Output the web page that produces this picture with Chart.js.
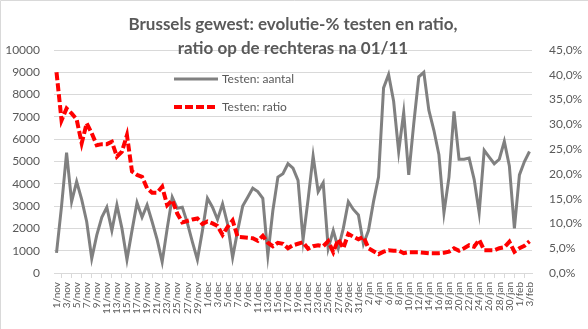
<!DOCTYPE html>
<html>
<head>
<meta charset="utf-8">
<title>Brussels gewest testen</title>
<script src="https://cdn.jsdelivr.net/npm/chart.js@4.4.0/dist/chart.umd.min.js"></script>
<style>
  html, body { margin: 0; padding: 0; background: #fff; }
</style>
</head>
<body>
<canvas id="testChart" width="588" height="329"></canvas>
<script>
// dagen 1/nov t.e.m. 3/feb
const dagen = [
  '1/nov','2/nov','3/nov','4/nov','5/nov','6/nov','7/nov','8/nov','9/nov','10/nov',
  '11/nov','12/nov','13/nov','14/nov','15/nov','16/nov','17/nov','18/nov','19/nov','20/nov',
  '21/nov','22/nov','23/nov','24/nov','25/nov','26/nov','27/nov','28/nov','29/nov','30/nov',
  '1/dec','2/dec','3/dec','4/dec','5/dec','6/dec','7/dec','8/dec','9/dec','10/dec',
  '11/dec','12/dec','13/dec','14/dec','15/dec','16/dec','17/dec','18/dec','19/dec','20/dec',
  '21/dec','22/dec','23/dec','24/dec','25/dec','26/dec','27/dec','28/dec','29/dec','30/dec','31/dec',
  '1/jan','2/jan','3/jan','4/jan','5/jan','6/jan','7/jan','8/jan','9/jan','10/jan',
  '11/jan','12/jan','13/jan','14/jan','15/jan','16/jan','17/jan','18/jan','19/jan','20/jan',
  '21/jan','22/jan','23/jan','24/jan','25/jan','26/jan','27/jan','28/jan','29/jan','30/jan','31/jan',
  '1/feb','2/feb','3/feb'
];

// aantal testen per dag
const aantal = [
  900, 3000, 5400, 3200, 4100, 3300, 2300, 650, 1700, 2500,
  2950, 1900, 3050, 2000, 600, 1900, 3150, 2500, 3050, 2300,
  1500, 500, 2000, 3400, 2900, 2950, 2250, 1400, 600, 1900,
  3350, 2950, 2400, 3100, 2200, 700, 1900, 3000, 3400, 3800,
  3650, 3350, 800, 2800, 4300, 4450, 4900, 4700, 4150, 1500,
  3300, 5250, 3650, 4050, 1100, 1900, 1100, 2000, 3200, 2850,
  2600, 1300, 1900, 3200, 4300, 8300, 8900, 7700, 5450, 7200,
  4400, 6700, 8800, 9000, 7300, 6400, 5300, 2700, 4300, 7250,
  5100, 5100, 5150, 4200, 2700, 5500, 5200, 4900, 5100, 5900,
  4800, 2000, 4400, 5000, 5450
];

// positiviteitsratio in %
const ratio = [
  40.5, 30.8, 33.2, 32.2, 31.0, 26.2, 30.2, 28.2, 25.8, 26.0,
  26.0, 26.5, 23.5, 24.5, 27.8, 20.5, 19.8, 19.4, 17.1, 16.2,
  16.2, 17.4, 13.7, 14.7, 12.0, 10.2, 10.5, 10.8, 11.0, 9.9,
  10.4, 10.0, 9.5, 7.7, 9.3, 10.6, 7.3, 7.2, 7.1, 7.0,
  6.5, 7.5, 6.1, 5.4, 6.1, 5.9, 5.0, 5.6, 5.9, 6.2,
  4.9, 5.4, 5.6, 5.4, 6.4, 4.2, 6.8, 5.0, 7.9, 7.3,
  6.8, 7.3, 5.0, 4.4, 3.8, 4.3, 4.6, 4.5, 4.5, 4.0,
  4.2, 4.2, 4.2, 4.1, 4.0, 4.0, 4.0, 4.1, 4.3, 5.0,
  4.5, 5.0, 5.6, 5.3, 6.7, 4.6, 4.6, 4.6, 5.0, 5.2,
  6.3, 4.3, 5.0, 5.5, 6.4
];

const titelRegels = ['Brussels gewest: evolutie-% testen en ratio,', 'ratio op de rechteras na 01/11'];

const tekstKleur = '#595959';
const rasterKleur = '#d9d9d9';
const lettertype = 'Lato, "Liberation Sans", sans-serif';

// titel, legende en kader zelf tekenen (titel ligt over het raster)
const extraTekening = {
  id: 'extraTekening',
  afterDraw(chart) {
    const ctx = chart.ctx;
    ctx.save();
    // kader
    ctx.strokeStyle = rasterKleur;
    ctx.lineWidth = 1;
    ctx.beginPath();
    ctx.moveTo(0.5, 329);
    ctx.lineTo(0.5, 0.5);
    ctx.lineTo(588, 0.5);
    ctx.stroke();

    // titel
    ctx.fillStyle = tekstKleur;
    ctx.font = 'bold 17px ' + lettertype;
    ctx.textAlign = 'center';
    ctx.textBaseline = 'middle';
    ctx.fillText(titelRegels[0], 293, 25);
    ctx.fillText(titelRegels[1], 293, 49);

    // legende
    const items = [chart.data.datasets[1], chart.data.datasets[0]];
    items.forEach((ds, k) => {
      const y = 79 + k * 28;
      ctx.strokeStyle = ds.borderColor;
      ctx.lineWidth = ds.borderWidth;
      ctx.setLineDash(ds.borderDash || []);
      ctx.beginPath();
      ctx.moveTo(174, y);
      ctx.lineTo(218, y);
      ctx.stroke();
      ctx.setLineDash([]);
      ctx.fillStyle = tekstKleur;
      ctx.font = '12px ' + lettertype;
      ctx.textAlign = 'left';
      ctx.fillText(ds.label, 222, y);
    });
    ctx.restore();
  }
};

const ctx = document.getElementById('testChart');
new Chart(ctx, {
  type: 'line',
  data: {
    labels: dagen,
    datasets: [
      {
        label: 'Testen: ratio',
        data: ratio,
        yAxisID: 'y2',
        borderColor: '#ff0000',
        borderWidth: 4,
        borderDash: [8, 3],
        pointRadius: 0,
        tension: 0,
        order: 0
      },
      {
        label: 'Testen: aantal',
        data: aantal,
        yAxisID: 'y',
        borderColor: '#808080',
        borderWidth: 3,
        pointRadius: 0,
        tension: 0,
        order: 1
      }
    ]
  },
  options: {
    responsive: false,
    animation: false,
    layout: { padding: { top: 50 } },
    plugins: {
      legend: { display: false },
      title: { display: false },
      tooltip: { enabled: false }
    },
    scales: {
      x: {
        offset: true,
        grid: {
          offset: true,
          drawOnChartArea: false,
          tickLength: 5,
          color: rasterKleur
        },
        border: { color: rasterKleur },
        ticks: {
          autoSkip: false,
          minRotation: 90,
          maxRotation: 90,
          padding: 4,
          color: tekstKleur,
          font: { family: lettertype, size: 10 },
          callback: function (v, i) { return i % 2 === 0 ? this.getLabelForValue(v) : null; }
        },
        afterFit(scale) { scale.height = 56; }
      },
      y: {
        position: 'left',
        min: 0,
        max: 10000,
        grid: { color: rasterKleur, drawTicks: false },
        border: { display: false },
        ticks: {
          stepSize: 1000,
          padding: 14,
          color: tekstKleur,
          font: { family: lettertype, size: 12 },
          callback: (v) => String(v)
        },
        afterFit(scale) { scale.width = 54; }
      },
      y2: {
        position: 'right',
        min: 0,
        max: 45,
        grid: { drawOnChartArea: false, drawTicks: false },
        border: { display: false },
        ticks: {
          stepSize: 5,
          padding: 17,
          color: tekstKleur,
          font: { family: lettertype, size: 12 },
          callback: (v) => v.toFixed(1).replace('.', ',') + '%'
        },
        afterFit(scale) { scale.width = 56; }
      }
    }
  },
  plugins: [extraTekening]
});
</script>
</body>
</html>
